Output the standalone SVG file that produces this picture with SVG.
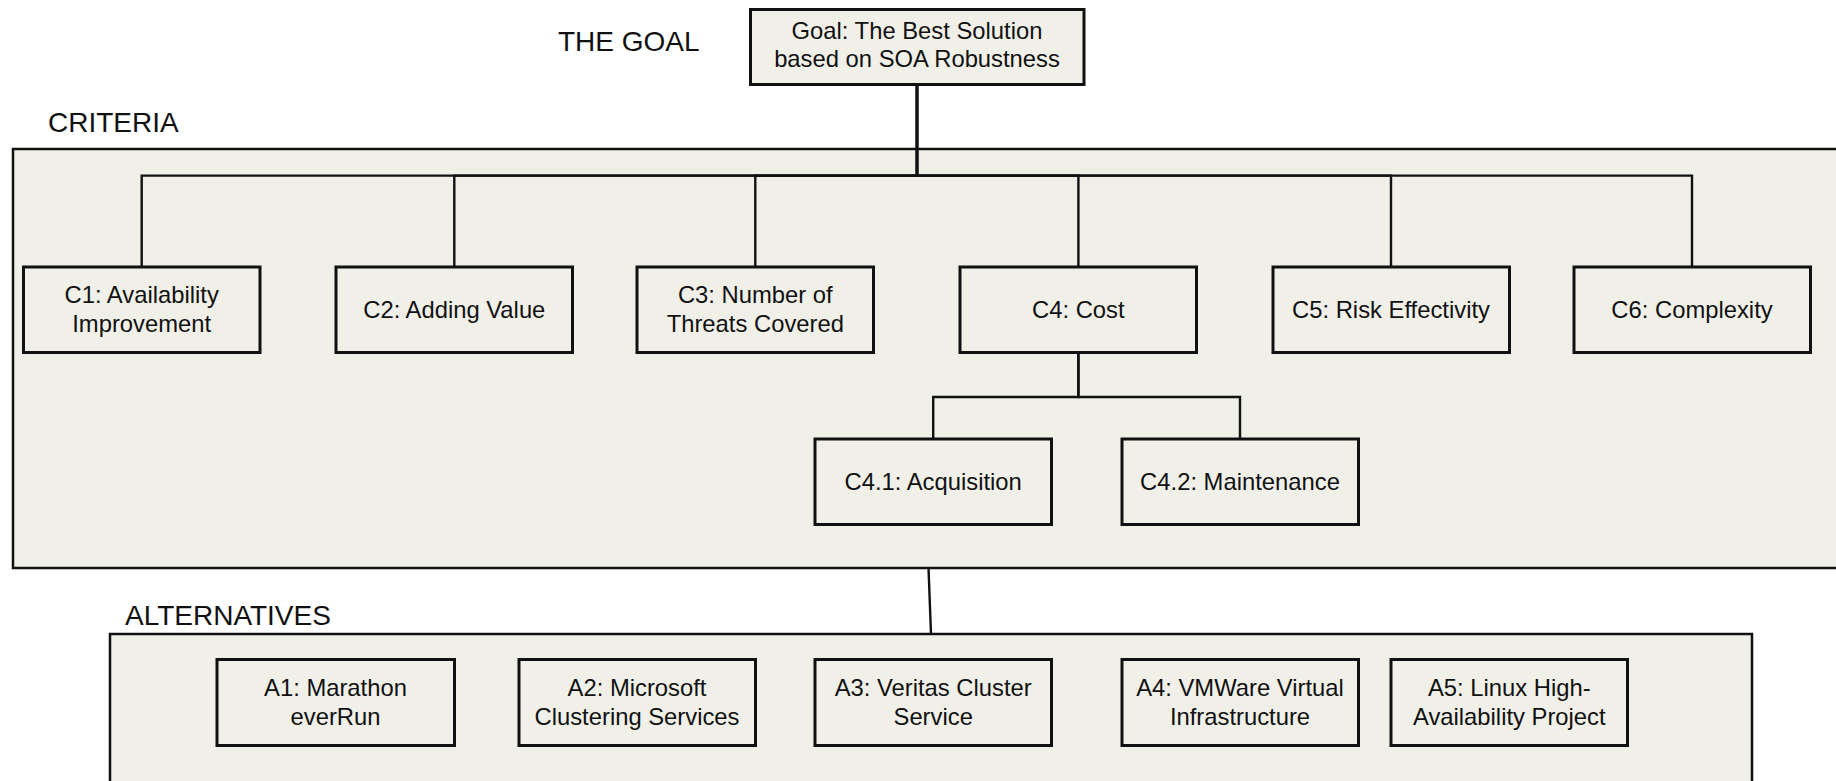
<svg xmlns="http://www.w3.org/2000/svg" width="1836" height="781" viewBox="0 0 1836 781">
<style>
.area{fill:#f0f0e9;stroke:#111;stroke-width:2.5}
.node{fill:#f0f0e9;stroke:#111;stroke-width:3}
.lbl{font-family:"Liberation Sans",Arial,sans-serif;font-size:28px;fill:#111}
.t{font-family:"Liberation Sans",Arial,sans-serif;font-size:23.8px;fill:#111;text-anchor:middle}
.c{fill:none;stroke:#111;stroke-width:2.4}
</style>
<rect width="1836" height="781" fill="#fff"/>
<g id="criteria-area">
<rect class="area" x="13" y="149" width="1840" height="419"/>
<text class="lbl" x="48" y="132">CRITERIA</text>
</g>
<g id="alternatives-area">
<rect class="area" x="110" y="634" width="1642" height="160"/>
<text class="lbl" x="125" y="625">ALTERNATIVES</text>
</g>
<text class="lbl" x="558" y="51">THE GOAL</text>
<g id="connectors">
<path class="c" d="M917,84 V175.6 H141.7 V267"/>
<path class="c" d="M917,84 V175.6 H454.3 V267"/>
<path class="c" d="M917,84 V175.6 H755.3 V267"/>
<path class="c" d="M917,84 V175.6 H1078.4 V267"/>
<path class="c" d="M917,84 V175.6 H1391 V267"/>
<path class="c" d="M917,84 V175.6 H1692 V267"/>
<path class="c" d="M1078.4,352 V397 H933.2 V439"/>
<path class="c" d="M1078.4,352 V397 H1240 V439"/>
<path class="c" d="M928.5,568 L931,634"/>
</g>
<g id="goal">
<rect class="node" x="750.5" y="9.5" width="333.5" height="75"/>
<text class="t" x="917" y="39">Goal: The Best Solution</text>
<text class="t" x="917" y="67">based on SOA Robustness</text>
</g>
<g id="c1">
<rect class="node" x="23.5" y="267" width="236.5" height="85.5"/>
<text class="t" x="141.7" y="303">C1: Availability</text>
<text class="t" x="141.7" y="331.5">Improvement</text>
</g>
<g id="c2">
<rect class="node" x="336" y="267" width="236.5" height="85.5"/>
<text class="t" x="454.3" y="318">C2: Adding Value</text>
</g>
<g id="c3">
<rect class="node" x="637" y="267" width="236.5" height="85.5"/>
<text class="t" x="755.3" y="303">C3: Number of</text>
<text class="t" x="755.3" y="331.5">Threats Covered</text>
</g>
<g id="c4">
<rect class="node" x="960" y="267" width="236.5" height="85.5"/>
<text class="t" x="1078.3" y="318">C4: Cost</text>
</g>
<g id="c5">
<rect class="node" x="1273" y="267" width="236.5" height="85.5"/>
<text class="t" x="1391" y="318">C5: Risk Effectivity</text>
</g>
<g id="c6">
<rect class="node" x="1574" y="267" width="236.5" height="85.5"/>
<text class="t" x="1692" y="318">C6: Complexity</text>
</g>
<g id="c41">
<rect class="node" x="815" y="439" width="236.5" height="85.5"/>
<text class="t" x="933.2" y="490">C4.1: Acquisition</text>
</g>
<g id="c42">
<rect class="node" x="1122" y="439" width="236.5" height="85.5"/>
<text class="t" x="1240" y="490">C4.2: Maintenance</text>
</g>
<g id="a1">
<rect class="node" x="217" y="659.5" width="237.5" height="86"/>
<text class="t" x="335.5" y="696">A1: Marathon</text>
<text class="t" x="335.5" y="724.5">everRun</text>
</g>
<g id="a2">
<rect class="node" x="519" y="659.5" width="236.5" height="86"/>
<text class="t" x="637" y="696">A2: Microsoft</text>
<text class="t" x="637" y="724.5">Clustering Services</text>
</g>
<g id="a3">
<rect class="node" x="815" y="659.5" width="236.5" height="86"/>
<text class="t" x="933.2" y="696">A3: Veritas Cluster</text>
<text class="t" x="933.2" y="724.5">Service</text>
</g>
<g id="a4">
<rect class="node" x="1122" y="659.5" width="236.5" height="86"/>
<text class="t" x="1240" y="696">A4: VMWare Virtual</text>
<text class="t" x="1240" y="724.5">Infrastructure</text>
</g>
<g id="a5">
<rect class="node" x="1391" y="659.5" width="236.5" height="86"/>
<text class="t" x="1509.3" y="696">A5: Linux High-</text>
<text class="t" x="1509.3" y="724.5">Availability Project</text>
</g>
</svg>
